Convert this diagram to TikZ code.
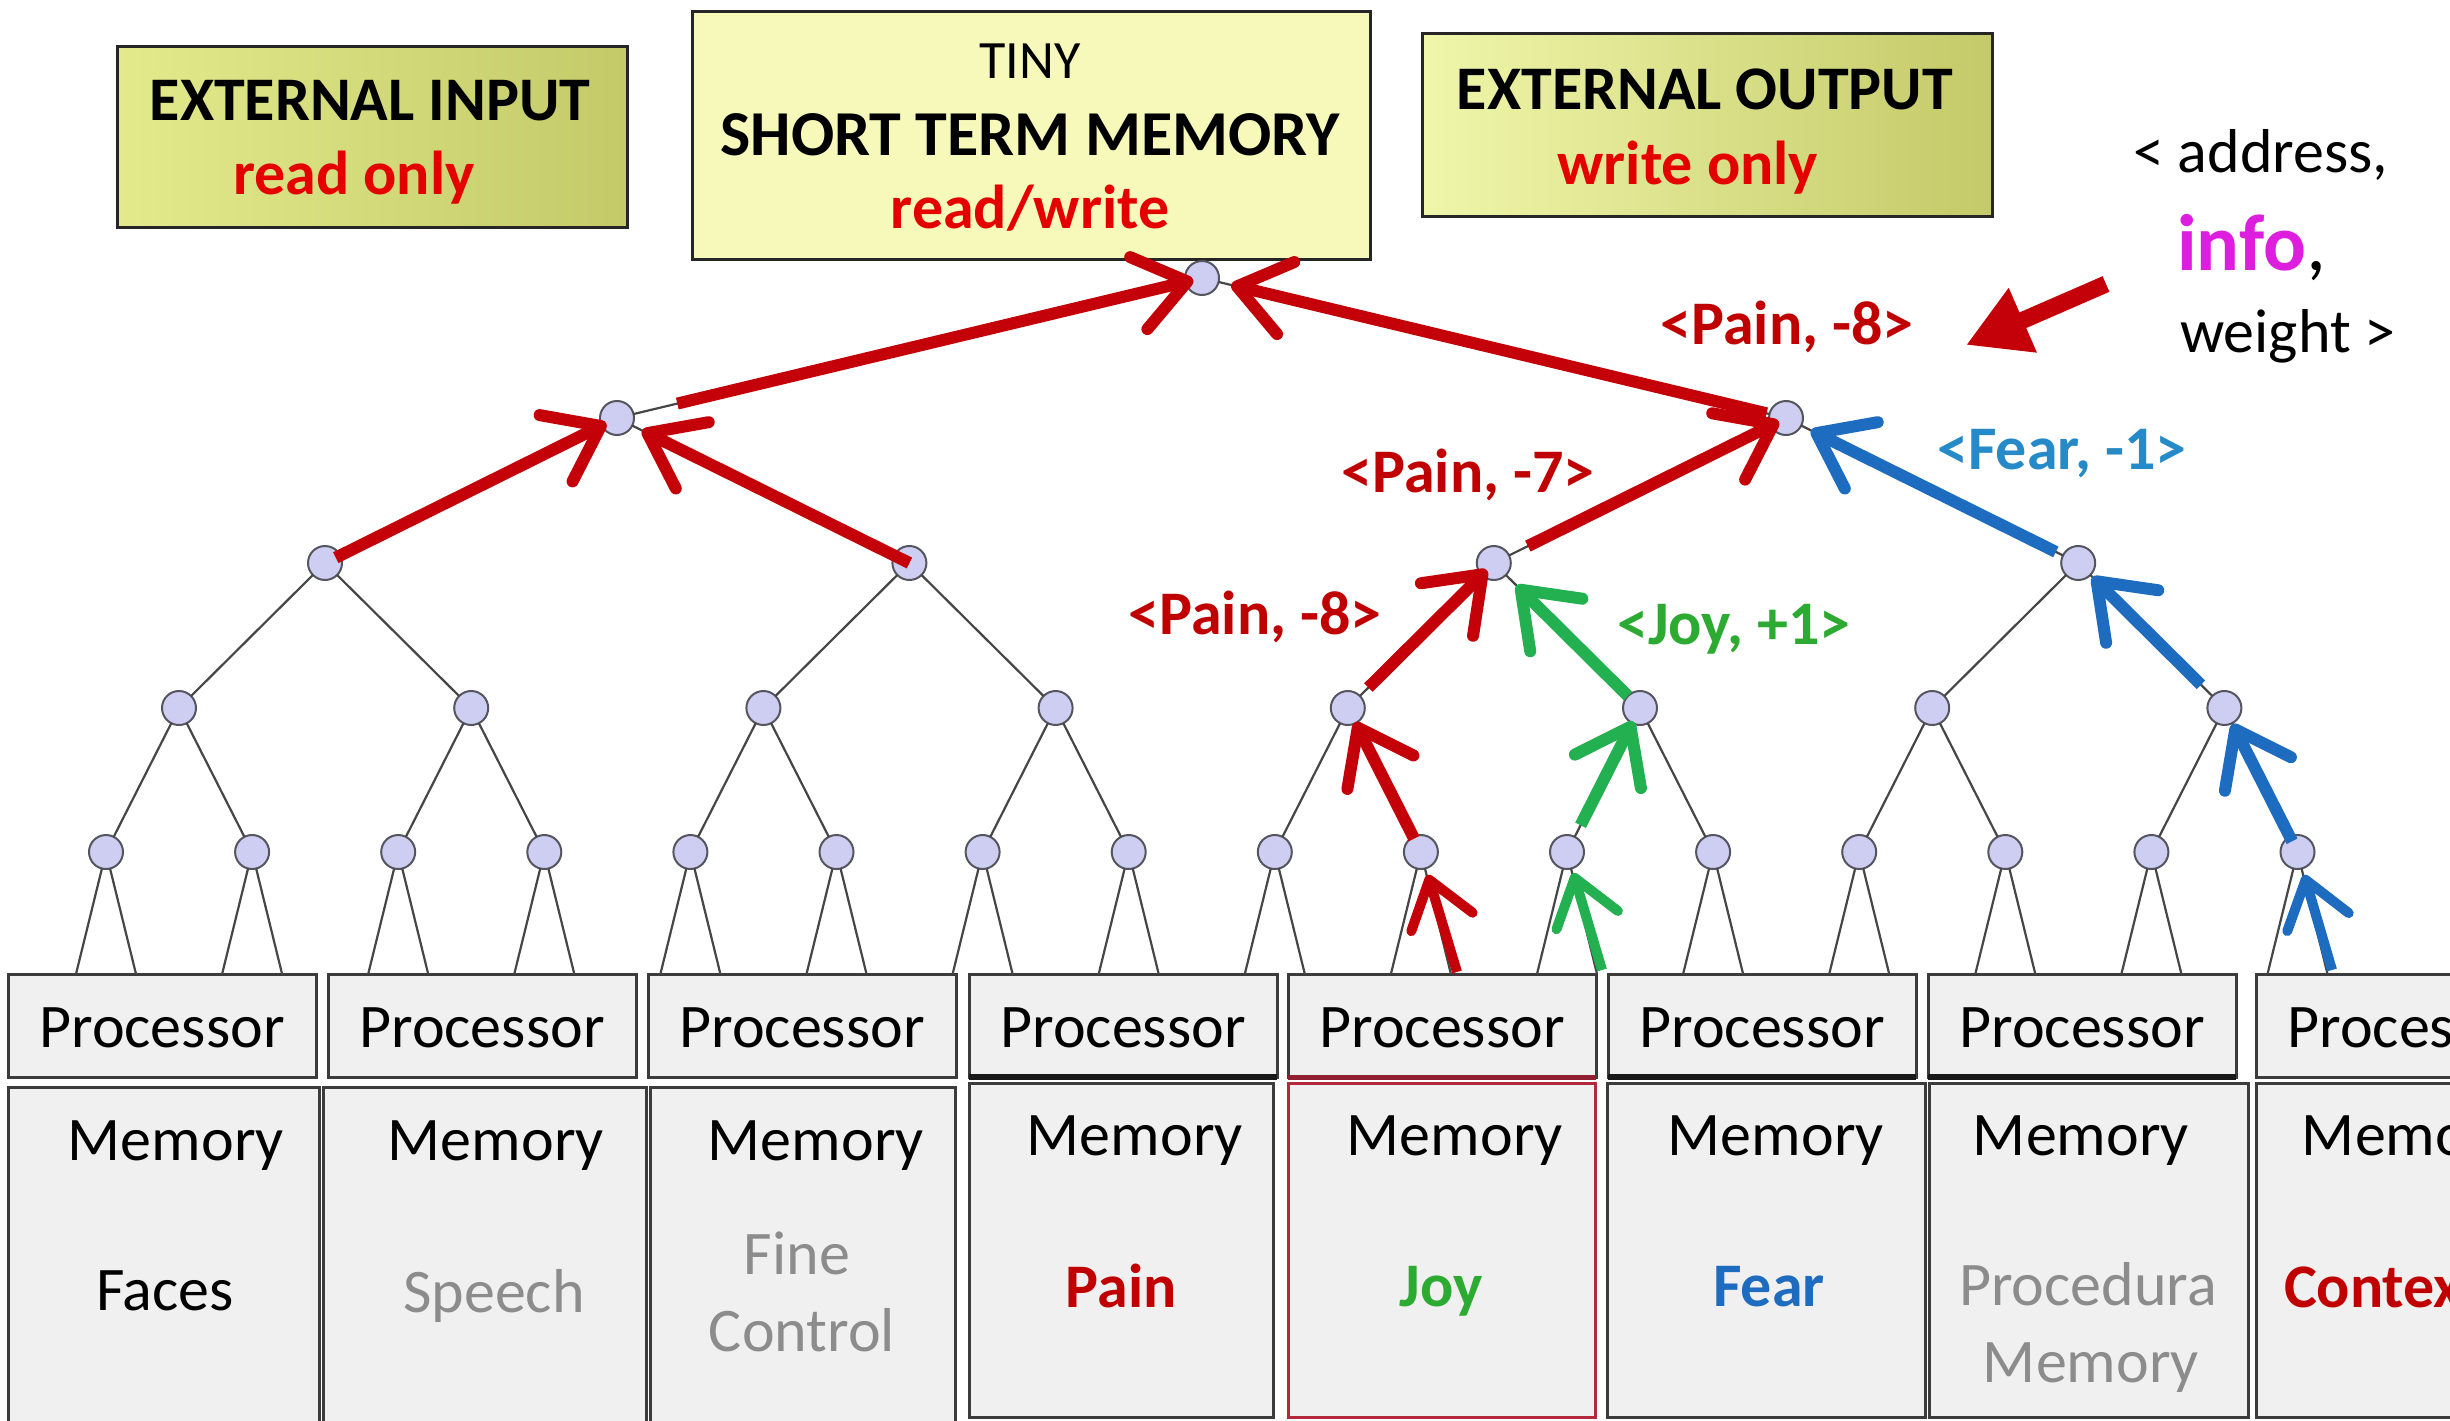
\documentclass[tikz,border=0pt]{standalone}
\usepackage{fontspec}
\setmainfont{Carlito}
\usetikzlibrary{arrows.meta}

\definecolor{arrred}{RGB}{196,0,8}
\definecolor{lblred}{RGB}{192,0,0}
\definecolor{hotred}{RGB}{228,0,0}
\definecolor{arrblue}{RGB}{30,108,192}
\definecolor{lblblue}{RGB}{38,138,200}
\definecolor{arrgreen}{RGB}{34,176,80}
\definecolor{lblgreen}{RGB}{44,170,50}
\definecolor{infomag}{RGB}{222,30,222}
\definecolor{dimtext}{RGB}{140,140,140}
\definecolor{nodefill}{RGB}{206,206,242}
\definecolor{nodeedge}{RGB}{85,85,95}
\definecolor{edgegray}{RGB}{70,70,70}
\definecolor{cellfill}{RGB}{240,240,240}
\definecolor{cellline}{RGB}{60,60,60}
\definecolor{memred}{RGB}{180,40,60}
\definecolor{memyellow}{RGB}{246,249,186}
\definecolor{extleft}{RGB}{226,234,140}
\definecolor{extmid}{RGB}{240,246,170}
\definecolor{extright}{RGB}{196,202,104}

\newcommand\txtsize{\fontsize{62}{76}\selectfont}

\begin{document}
\begin{tikzpicture}[x=1pt,y=-1pt,
  every node/.style={inner sep=0pt, outer sep=0pt},
  tnode/.style={circle, minimum size=34pt, fill=nodefill, draw=nodeedge, line width=2pt},
  treeline/.style={draw=edgegray, line width=2.2pt},
  flow/.style={line width=12pt, -{Straight Barb[length=50pt,width=74pt,round]}},
  lowflow/.style={line width=10pt, -{Straight Barb[length=44pt,width=64pt,round]}},
  cell/.style={draw=cellline, fill=cellfill, line width=3pt},
  ybox/.style={draw=black!85, line width=3pt, anchor=north west},
  txt/.style={font=\txtsize, anchor=base},
  btxt/.style={font=\txtsize\bfseries, anchor=base},
]

\clip (0,0) rectangle (2450,1421);
\fill[white] (0,0) rectangle (2450,1421);

% ---------- the three yellow boxes ----------
\node[ybox, left color=extleft, middle color=extmid, right color=extright,
      minimum width=510pt, minimum height=180pt] (extin) at (117,47) {};
\node[btxt] (extin-t) at (370,120) {EXTERNAL INPUT};
\node[btxt, text=hotred] (extin-m) at (354,194) {read only};

\node[ybox, fill=memyellow, minimum width=678pt, minimum height=247pt] (stm) at (692,12) {};
\node[txt, font=\fontsize{54}{60}\selectfont] (stm-a) at (1030,78) {TINY};
\node[btxt, font=\fontsize{64}{76}\selectfont\bfseries] (stm-b) at (1030,155) {SHORT TERM MEMORY};
\node[btxt, text=hotred] (stm-c) at (1030,228) {read/write};

\node[ybox, left color=extmid, middle color=extmid, right color=extright,
      minimum width=570pt, minimum height=182pt] (extout) at (1422,34) {};
\node[btxt] (extout-t) at (1705,109) {EXTERNAL OUTPUT};
\node[btxt, text=hotred] (extout-m) at (1688,184) {write only};

% ---------- tuple legend ----------
\node[txt, anchor=base west] (leg-a) at (2133,172) {< address,};
\node[anchor=base west, font=\fontsize{80}{90}\selectfont\bfseries, text=infomag] (leg-b) at (2177,270) {info\textcolor{black}{\mdseries,}};
\node[txt, anchor=base west] (leg-c) at (2180,352) {weight >};
\coordinate (legtail) at (2106,284);
\coordinate (legtip) at (1966,345);
\draw[arrred, line width=17pt, -{Triangle[length=62pt,width=66pt]}] (legtail) -- (legtip);

% ---------- processor and memory cells ----------
\foreach \k/\l in {1/8,2/328,3/648,4/969,5/1288,6/1608,7/1928,8/2256}{
  \node[cell, anchor=north west, minimum width=308pt, minimum height=103pt] (proc\k) at (\l,974) {};
  \node[txt] (proc\k-t) at ({\l+154},1047) {Processor};
}
% heavier lower edges on some processor cells
\foreach \k in {4,6,7}{ \draw[line width=6pt, black!90] (proc\k.south west) -- (proc\k.south east); }
\draw[line width=5pt, memred!80!black] (proc5.south west) -- (proc5.south east);

\foreach \k/\l/\r/\t/\b/\c in {1/8/319/1087/1440/cellline, 2/323/646/1087/1440/cellline,
    3/650/955/1087/1440/cellline, 4/969/1273/1083/1417/cellline, 5/1288/1595/1083/1417/memred,
    6/1607/1925/1083/1417/cellline, 7/1929/2248/1083/1417/cellline, 8/2256/2580/1083/1417/cellline}{
  \node[cell, draw=\c, anchor=north west, minimum width={\r-\l}, minimum height={\b-\t}] (mem\k) at (\l,\t) {};
}
\foreach \k/\x/\y in {1/176/1160, 2/496/1160, 3/816/1160, 4/1135/1155, 5/1455/1155, 6/1776/1155, 7/2081/1155, 8/2410/1155}{
  \node[txt] (mem\k-t) at (\x,\y) {Memory};
}
\node[txt] (faces) at (165,1310) {Faces};
\node[txt, text=dimtext] (speech) at (494,1312) {Speech};
\node[txt, text=dimtext] (fine) at (797,1274) {Fine};
\node[txt, text=dimtext] (control) at (802,1351) {Control};
\node[btxt, text=lblred] (pain) at (1121,1307) {Pain};
\node[btxt, text=lblgreen] (joy) at (1441,1306) {Joy};
\node[btxt, text=arrblue] (fear) at (1769,1306) {Fear};
\node[txt, text=dimtext] (proc-a) at (2088,1305) {Procedura};
\node[txt, text=dimtext] (proc-b) at (2091,1382) {Memory};
\node[btxt, text=lblred, anchor=base west] (context) at (2284,1307) {Context};

% ---------- binary tree ----------
\node[tnode] (root) at (1202,278) {};
\foreach \i in {0,1}{ \node[tnode] (l1-\i) at ({617+1169*\i},418) {}; }
\foreach \i in {0,...,3}{ \node[tnode] (l2-\i) at ({325+584.4*\i},563) {}; }
\foreach \i in {0,...,7}{ \node[tnode] (l3-\i) at ({179+292.2*\i},708) {}; }
\foreach \i in {0,...,15}{
  \node[tnode] (l4-\i) at ({106+146.1*\i},852) {};
  \coordinate (pin-\i-a) at ({76+146.1*\i},974);
  \coordinate (pin-\i-b) at ({136+146.1*\i},974);
  \draw[treeline] (l4-\i) -- (pin-\i-a);
  \draw[treeline] (l4-\i) -- (pin-\i-b);
}
\draw[treeline] (root) -- (l1-0);
\draw[treeline] (root) -- (l1-1);
\foreach \i in {0,1}{
  \pgfmathtruncatemacro\ca{2*\i}\pgfmathtruncatemacro\cb{2*\i+1}
  \draw[treeline] (l1-\i) -- (l2-\ca);
  \draw[treeline] (l1-\i) -- (l2-\cb);
}
\foreach \i in {0,...,3}{
  \pgfmathtruncatemacro\ca{2*\i}\pgfmathtruncatemacro\cb{2*\i+1}
  \draw[treeline] (l2-\i) -- (l3-\ca);
  \draw[treeline] (l2-\i) -- (l3-\cb);
}
\foreach \i in {0,...,7}{
  \pgfmathtruncatemacro\ca{2*\i}\pgfmathtruncatemacro\cb{2*\i+1}
  \draw[treeline] (l3-\i) -- (l4-\ca);
  \draw[treeline] (l3-\i) -- (l4-\cb);
}

% ---------- messages travelling up the tree ----------
\coordinate (rsrc) at (1457,972);
\coordinate (gsrc) at (1602,970);
\coordinate (bsrc) at (2332,970);

% Pain
\draw[lowflow, arrred, shorten >=24pt] (rsrc) -- (l4-9.center);
\draw[flow, arrred, shorten <=15pt, shorten >=16pt] (l4-9.center) -- (l3-4.center);
\draw[flow, arrred, shorten <=29pt, shorten >=10pt] (l3-4.center) -- (l2-2.center);
\draw[flow, arrred, shorten <=38pt, shorten >=8pt] (l2-2.center) -- (l1-1.center);
\draw[flow, arrred, shorten <=20pt, shorten >=30pt] (l1-1.center) -- (root.center);
\draw[flow, arrred, shorten <=12pt, shorten >=12pt] (l2-0.center) -- (l1-0.center);
\draw[flow, arrred, shorten <=0pt, shorten >=28pt] (l2-1.center) -- (l1-0.center);
\draw[flow, arrred, shorten <=62pt, shorten >=9pt] (l1-0.center) -- (root.center);
% Joy
\draw[lowflow, arrgreen, shorten >=22pt] (gsrc) -- (l4-10.center);
\draw[flow, arrgreen, shorten <=30pt, shorten >=15pt] (l4-10.center) -- (l3-5.center);
\draw[flow, arrgreen, shorten <=17pt, shorten >=32pt] (l3-5.center) -- (l2-2.center);
% Fear
\draw[lowflow, arrblue, shorten >=24pt] (bsrc) -- (l4-15.center);
\draw[flow, arrblue, shorten <=12pt, shorten >=18pt] (l4-15.center) -- (l3-7.center);
\draw[flow, arrblue, shorten <=33pt, shorten >=20pt] (l3-7.center) -- (l2-3.center);
\draw[flow, arrblue, shorten <=25pt, shorten >=28pt] (l2-3.center) -- (l1-1.center);

% ---------- message labels ----------
\node[btxt, text=lblred] (m-top) at (1787,344) {<Pain, -8>};
\node[btxt, text=lblred] (m-p7) at (1468,492) {<Pain, -7>};
\node[btxt, text=lblblue] (m-fear) at (2062,469) {<Fear, -1>};
\node[btxt, text=lblred] (m-p8) at (1255,634) {<Pain, -8>};
\node[btxt, text=lblgreen] (m-joy) at (1734,644) {<Joy, +1>};
\end{tikzpicture}
\end{document}
